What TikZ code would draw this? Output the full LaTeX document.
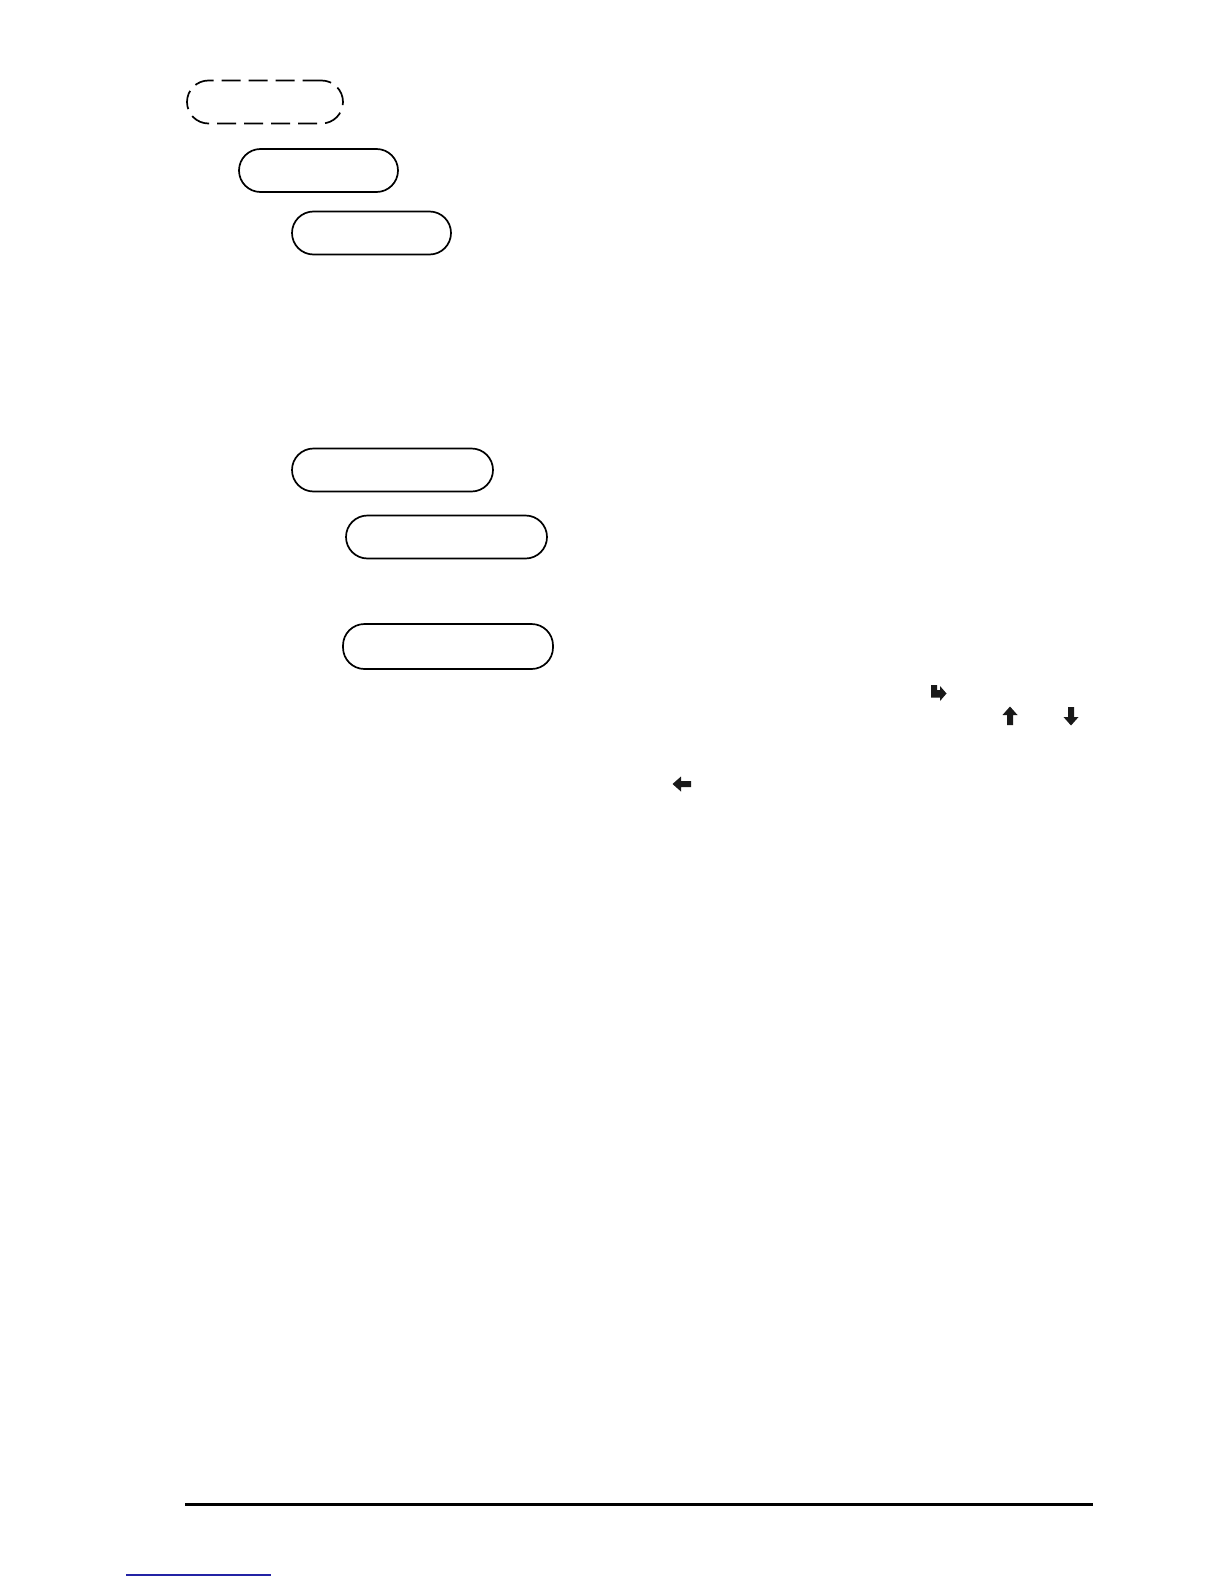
\documentclass[tikz,border=0pt]{standalone}
\usetikzlibrary{positioning}
\definecolor{linkblue}{RGB}{35,35,165}
\tikzset{
  pill/.style={draw,line width=1.7pt,rounded corners=21.5pt,inner sep=0pt,
    minimum height=43pt},
  glyph/.style={fill=black!90,draw=none}
}
\begin{document}
\begin{tikzpicture}[x=1pt,y=-1pt]
      \fill[white] (0,0) rectangle (1224,1584);
      \useasboundingbox (0,0) rectangle (1224,1584);

      % stepped boxes
      \node [pill,dash pattern=on 19pt off 8pt,minimum width=156pt] (1) at (265,102) {};
      \node [pill,minimum width=159pt] (2) at (318.5,170.5) {};
      \node [pill,minimum width=159pt] (3) at (371.5,233) {};
      \node [pill,minimum width=201pt] (4) at (392.5,470) {};
      \node [pill,minimum width=201pt] (5) at (446.5,537) {};
      \node [pill,minimum width=210pt,minimum height=45pt] (6) at (448,646.5) {};

      % arrow marks
      \fill[glyph,shift={(931,685)}] (0,0) -- (6,0) -- (6,5) -- (9,5) -- (9,1)
        -- (15.5,8.5) -- (9,16) -- (9,12.5) -- (0,12.5) -- cycle;
      \foreach \cx/\cy/\ang in {1010/716/0, 1071/716/180, 682/784/90}
        \fill[glyph,shift={(\cx,\cy)},rotate=\ang] (0,-9.5) -- (7.5,-1) -- (3,-1)
          -- (3,9) -- (-3,9) -- (-3,-1) -- (-7.5,-1) -- cycle;

      % rules at the foot
      \draw[line width=3pt] (185,1504) -- (1093,1504);
      \draw[linkblue,line width=1.5pt] (126,1575) -- (271,1575);
    \end{tikzpicture}
\end{document}
